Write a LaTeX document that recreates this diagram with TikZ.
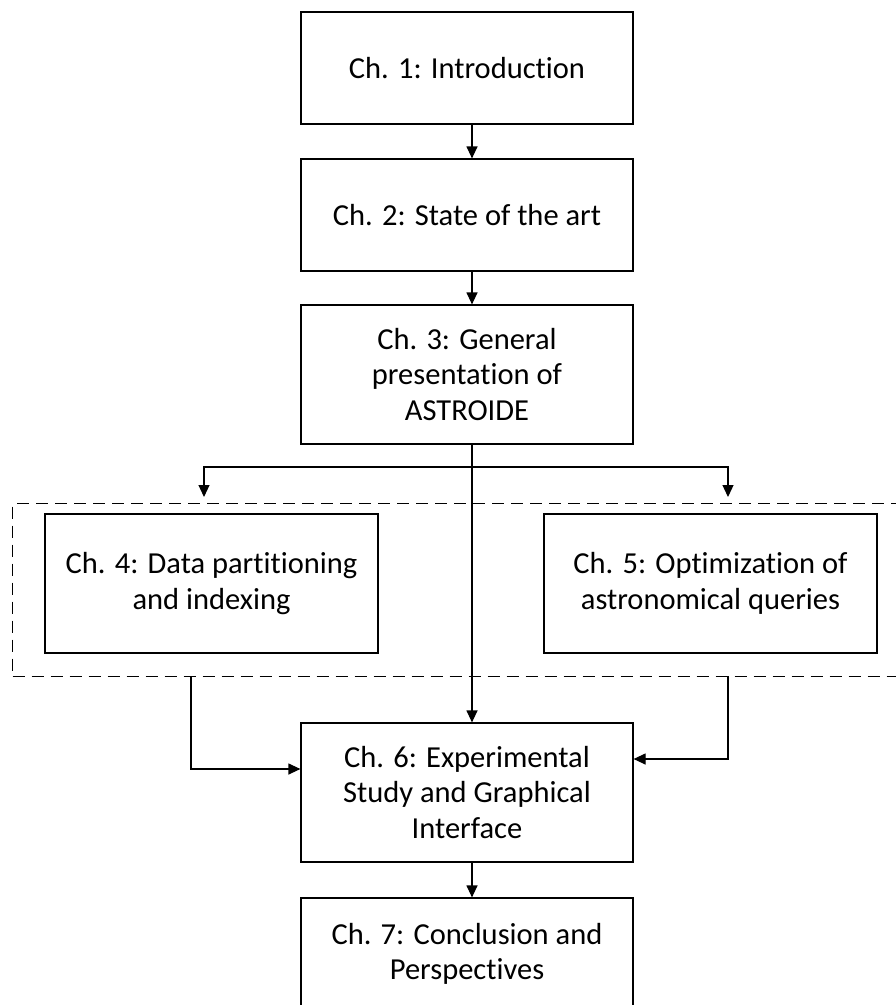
\documentclass[tikz,border=0pt]{standalone}
\usepackage{fontspec}
\setmainfont{Carlito}[Ligatures={NoCommon}]
\usetikzlibrary{arrows.meta}
\begin{document}
\begin{tikzpicture}[x=1pt,y=-1pt,
  box/.style={draw, line width=1.2pt, minimum width=332pt, inner sep=0pt, align=center,
    font=\fontsize{30.5}{35.5}\selectfont},
  conn/.style={line width=1.2pt},
  arr/.style={conn, -{Triangle[length=12pt,width=11pt]}},
  grp/.style={draw, line width=1.1pt, dash pattern=on 12pt off 7pt, inner sep=0pt}]
\useasboundingbox (0,0) rectangle (896,1005);
\clip (0,0) rectangle (896,1005);
\fill[white] (0,0) rectangle (896,1005);
\coordinate (cx) at (472,0);
\node[box, minimum height=112pt] (c1) at (467,68) {Ch. 1: Introduction};
\node[box, minimum height=112pt] (c2) at (467,215) {Ch. 2: State of the art};
\node[box, minimum height=139pt] (c3) at (467,374.5) {Ch. 3: General\\presentation of\\ASTROIDE};
\node[grp, minimum width=900pt, minimum height=173pt, anchor=north west] (g) at (12,503) {};
\node[box, minimum width=333pt, minimum height=139pt] (c4) at (211.5,583.5) {Ch. 4: Data partitioning\\and indexing};
\node[box, minimum width=333pt, minimum height=139pt] (c5) at (710.5,583.5) {Ch. 5: Optimization of\\astronomical queries};
\node[box, minimum height=139pt] (c6) at (467,792.5) {Ch. 6: Experimental\\Study and Graphical\\Interface};
\node[box, minimum height=112pt] (c7) at (467,954) {Ch. 7: Conclusion and\\Perspectives};
\coordinate (br) at (472,467);
\coordinate (l4) at (204,497);
\coordinate (l5) at (728,497);
\coordinate (o4) at (191,676);
\coordinate (o5) at (728,676);
\coordinate (i4) at (191,769);
\coordinate (i5) at (728,759);
\draw[arr] (c1.south -| cx) -- (c2.north -| cx);
\draw[arr] (c2.south -| cx) -- (c3.north -| cx);
\draw[arr] (c3.south -| cx) -- (c6.north -| cx);
\draw[arr] (br) -| (l4);
\draw[arr] (br) -| (l5);
\draw[arr] (o4) -- (i4) -- (i4 -| c6.west);
\draw[arr] (o5) -- (i5) -- (i5 -| c6.east);
\draw[arr] (c6.south -| cx) -- (c7.north -| cx);
\end{tikzpicture}
\end{document}
